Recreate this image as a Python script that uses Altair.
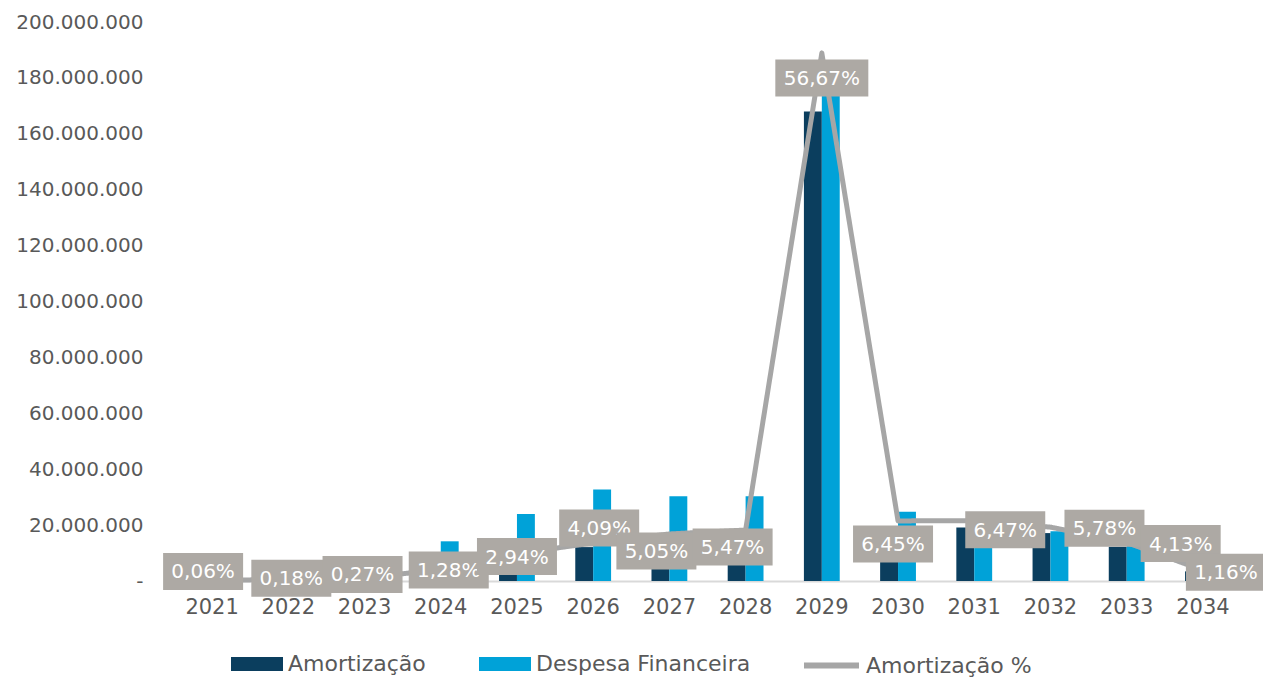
import altair as alt
import pandas as pd

years = [str(y) for y in range(2021, 2035)]
amortizacao = [0.18e6, 0.53e6, 0.80e6, 3.80e6, 8.72e6, 12.13e6, 14.97e6, 16.22e6,
               168.0e6, 19.12e6, 19.18e6, 17.14e6, 12.25e6, 3.44e6]
despesa = [0.3e6, 1.0e6, 2.5e6, 14.2e6, 24.0e6, 32.7e6, 30.3e6, 30.3e6,
           178.0e6, 24.8e6, 19.0e6, 17.8e6, 12.5e6, 2.5e6]
amort_pct = [0.0006, 0.0018, 0.0027, 0.0128, 0.0294, 0.0409, 0.0505, 0.0547,
             0.5667, 0.0645, 0.0647, 0.0578, 0.0413, 0.0116]
y_ticks = [0, 20e6, 40e6, 60e6, 80e6, 100e6, 120e6, 140e6, 160e6, 180e6, 200e6]

S_AM = "Amortização"
S_DF = "Despesa Financeira"
S_PCT = "Amortização %"

DARK = "#0B3E5E"
LIGHT = "#00A2D8"
GRAY = "#A6A6A6"
BOX = "#ADA9A4"
TXT = "#595959"
FONT = "DejaVu Sans"

bars_df = pd.DataFrame(
    [{"ano": y, "serie": S_AM, "valor": v} for y, v in zip(years, amortizacao)]
    + [{"ano": y, "serie": S_DF, "valor": v} for y, v in zip(years, despesa)]
)
pct_df = pd.DataFrame({
    "ano": years,
    "pct": amort_pct,
    "serie": [S_PCT] * len(years),
    "rotulo": [f"{p * 100:.2f}%".replace(".", ",") for p in amort_pct],
})

x_enc = alt.X("ano:N", sort=years, title=None,
              scale=alt.Scale(paddingInner=0.53, paddingOuter=0.265),
              axis=alt.Axis(labelAngle=0, labelFont=FONT, labelFontSize=21,
                            labelColor=TXT, ticks=False, tickSize=0,
                            domainColor="#D9D9D9", domainWidth=2,
                            labelPadding=15, grid=False))

bars = alt.Chart(bars_df).mark_bar().encode(
    x=x_enc,
    xOffset=alt.XOffset("serie:N", sort=[S_AM, S_DF], scale=alt.Scale(paddingInner=0, paddingOuter=0)),
    y=alt.Y("valor:Q", title=None,
            scale=alt.Scale(domain=[0, 200e6], nice=False),
            axis=alt.Axis(values=y_ticks, grid=False, domain=False, ticks=False, tickSize=0,
                          labelFont=FONT, labelFontSize=20, labelColor=TXT, labelPadding=31,
                          labelExpr="datum.value == 0 ? '-' : join(split(format(datum.value, ',.0f'), ','), '.')")),
    color=alt.Color("serie:N", scale=alt.Scale(domain=[S_AM, S_DF], range=[DARK, LIGHT]),
                    legend=alt.Legend(title=None, orient="none", legendX=57, legendY=616,
                                      direction="horizontal",
                                      symbolType="M-1,-0.27H1V0.27H-1Z", symbolSize=2704,
                                      symbolStrokeWidth=0, symbolOpacity=1,
                                      labelFont=FONT, labelFontSize=22, labelColor=TXT,
                                      labelOffset=5, columnPadding=53, labelLimit=400)),
)

pct_y = alt.Y("pct:Q", scale=alt.Scale(domain=[0, 0.60], nice=False), axis=None)

line = alt.Chart(pct_df).mark_line(color=GRAY, strokeWidth=5, strokeCap="round",
                                   strokeJoin="round").encode(
    x=alt.X("ano:N", sort=years),
    y=pct_y,
    strokeDash=alt.StrokeDash("serie:N", scale=alt.Scale(domain=[S_PCT], range=[[1, 0]]),
                              legend=alt.Legend(title=None, orient="none", legendX=627, legendY=613,
                                                symbolType="stroke",
                                                symbolStrokeColor=GRAY, symbolStrokeWidth=6,
                                                symbolSize=3025, symbolOpacity=1,
                                                labelFont=FONT, labelFontSize=22, labelColor=TXT,
                                                labelOffset=4, labelLimit=400)),
)


def labels(sel, dx, dy, w=80):
    base = alt.Chart(pct_df).transform_filter(
        alt.FieldOneOfPredicate(field="ano", oneOf=sel))
    h = 37.0 / w
    box = base.mark_point(shape=f"M-1,-{h:.4f}H1V{h:.4f}H-1Z", size=w * w, filled=True,
                          color=BOX, opacity=1, strokeWidth=0,
                          xOffset=dx, yOffset=dy).encode(
        x=alt.X("ano:N", sort=years), y=pct_y)
    txt = base.mark_text(font=FONT, fontSize=20, color="white", align="center",
                         baseline="middle", xOffset=dx, yOffset=dy + 1).encode(
        x=alt.X("ano:N", sort=years), y=pct_y, text="rotulo:N")
    return [box, txt]


lab_layers = []
lab_layers += labels(["2021"], -9, -9)
lab_layers += labels(["2022"], 3, -1)
lab_layers += labels(["2023"], -2, -4)
lab_layers += labels(["2024"], 8, 1)
lab_layers += labels(["2025"], 0, 3)
lab_layers += labels(["2026"], 6, -15)
lab_layers += labels(["2027", "2028"], -13, 17)
lab_layers += labels(["2029"], 0, 25, w=93)
lab_layers += labels(["2030"], -5, 23)
lab_layers += labels(["2031"], 31, 9)
lab_layers += labels(["2032", "2033"], 54, 1)
lab_layers += labels(["2034"], 23, 2)

pct_layer = alt.layer(line, *lab_layers)

chart = alt.layer(bars, pct_layer).resolve_scale(y="independent").properties(
    width=1067, height=559,
    background="white",
    autosize=alt.AutoSizeParams(type="none"),
    padding={"left": 174, "top": 22, "right": 22, "bottom": 99},
).configure_view(stroke=None)

chart.save("out.html", embed_options={"renderer": "svg", "actions": False})
